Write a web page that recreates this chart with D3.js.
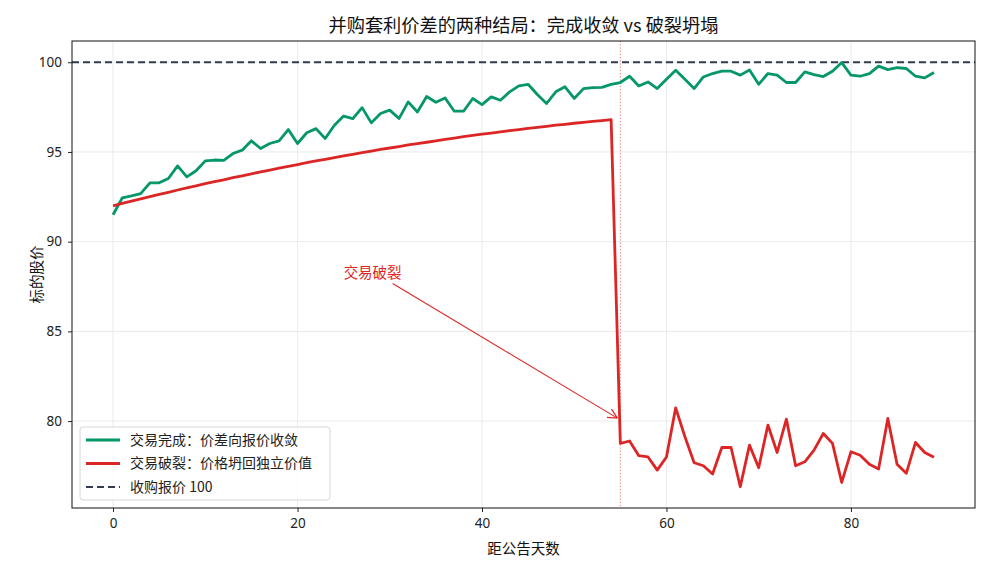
<!DOCTYPE html>
<html>
<head>
<meta charset="utf-8">
<script src="https://cdn.jsdelivr.net/npm/d3@7"></script>
<style>
  body { margin: 0; background: #fff; }
  svg { font-family: "Noto Sans CJK SC", "Noto Sans", sans-serif; }
</style>
</head>
<body>
<div id="chart"></div>
<script>
// data
var completeVals = [91.5, 92.44, 92.55, 92.68, 93.28, 93.28, 93.52, 94.22, 93.61, 93.95,
  94.5, 94.55, 94.53, 94.91, 95.1, 95.62, 95.19, 95.47, 95.62, 96.25,
  95.47, 96.07, 96.3, 95.75, 96.49, 97.0, 96.86, 97.47, 96.62, 97.14,
  97.33, 96.86, 97.79, 97.23, 98.09, 97.77, 98.01, 97.27, 97.27, 97.98,
  97.64, 98.07, 97.88, 98.35, 98.68, 98.77, 98.2, 97.7, 98.35, 98.63,
  97.98, 98.53, 98.58, 98.6, 98.77, 98.87, 99.22, 98.68, 98.9, 98.53,
  99.05, 99.55, 99.05, 98.53, 99.18, 99.37, 99.5, 99.5, 99.28, 99.57,
  98.77, 99.37, 99.28, 98.87, 98.87, 99.46, 99.31, 99.2, 99.5, 99.98,
  99.28, 99.22, 99.37, 99.78, 99.59, 99.7, 99.65, 99.22, 99.13, 99.43];

var brokenVals = [92.0, 92.13, 92.26, 92.38, 92.51, 92.63, 92.75, 92.88, 93.0, 93.11,
  93.23, 93.34, 93.45, 93.57, 93.67, 93.78, 93.89, 93.99, 94.1, 94.2,
  94.3, 94.4, 94.5, 94.59, 94.69, 94.78, 94.87, 94.96, 95.05, 95.14,
  95.22, 95.3, 95.39, 95.47, 95.54, 95.62, 95.7, 95.77, 95.85, 95.92,
  95.99, 96.05, 96.12, 96.19, 96.25, 96.31, 96.37, 96.43, 96.49, 96.54,
  96.6, 96.65, 96.7, 96.75, 96.8,
  78.76, 78.89, 78.07, 78.0, 77.27, 78.0, 80.74, 79.13, 77.68, 77.51,
  77.05, 78.53, 78.53, 76.34, 78.66, 77.4, 79.78, 78.25, 80.11, 77.51,
  77.73, 78.38, 79.31, 78.76, 76.58, 78.29, 78.1, 77.59, 77.33, 80.15,
  77.59, 77.09, 78.81, 78.25, 77.98];

var offerPrice = 100;
var breakDay = 55;
var xTicks = [0, 20, 40, 60, 80];
var yTicks = [80, 85, 90, 95, 100];
var legendLabels = ["交易完成：价差向报价收敛", "交易破裂：价格坍回独立价值", "收购报价 100"];

var W = 990, H = 572;
var margin = { top: 41, right: 15, bottom: 64, left: 72 };
var width = W - margin.left - margin.right,
    height = H - margin.top - margin.bottom;

var green = "#059669", red = "#dc2626", navy = "#333b50";

var svg = d3.select("#chart").append("svg")
    .attr("width", W)
    .attr("height", H);

var g = svg.append("g").attr("transform", "translate(" + margin.left + "," + margin.top + ")");

var n = completeVals.length;
var x = d3.scaleLinear().domain([-(n - 1) * 0.05, (n - 1) * 1.05]).range([0, width]);
var yMin = d3.min(brokenVals), yMax = offerPrice;
var pad = (yMax - yMin) * 0.05;
var y = d3.scaleLinear().domain([yMin - pad, yMax + pad]).range([height, 0]);

// grid
g.append("g").selectAll("line").data(xTicks).join("line")
    .attr("x1", d => x(d)).attr("x2", d => x(d))
    .attr("y1", 0).attr("y2", height)
    .attr("stroke", "#e6e6e6").attr("stroke-width", 0.8);
g.append("g").selectAll("line").data(yTicks).join("line")
    .attr("x1", 0).attr("x2", width)
    .attr("y1", d => y(d)).attr("y2", d => y(d))
    .attr("stroke", "#e6e6e6").attr("stroke-width", 0.8);

// axes
var xAxis = g.append("g").attr("transform", "translate(0," + height + ")")
    .call(d3.axisBottom(x).tickValues(xTicks).tickSize(4).tickPadding(6));
var yAxis = g.append("g")
    .call(d3.axisLeft(y).tickValues(yTicks).tickSize(4).tickPadding(6));
[xAxis, yAxis].forEach(function (a) {
    a.select(".domain").remove();
    a.selectAll("text").attr("font-size", 13.5).attr("fill", "#222")
      .attr("font-family", "'Noto Sans', sans-serif");
    a.selectAll("line").attr("stroke", "#222");
});

// break marker
g.append("line")
    .attr("x1", x(breakDay)).attr("x2", x(breakDay))
    .attr("y1", 0).attr("y2", height)
    .attr("stroke", red).attr("stroke-opacity", 0.6)
    .attr("stroke-width", 1.1).attr("stroke-dasharray", "1.2,2");

// offer line
g.append("line")
    .attr("x1", 0).attr("x2", width)
    .attr("y1", y(offerPrice)).attr("y2", y(offerPrice))
    .attr("stroke", navy).attr("stroke-width", 1.8)
    .attr("stroke-dasharray", "7,4");

var line = d3.line().x((d, i) => x(i)).y(d => y(d));

g.append("path").datum(completeVals)
    .attr("d", line).attr("fill", "none")
    .attr("stroke", green).attr("stroke-width", 2.8)
    .attr("stroke-linejoin", "round");

g.append("path").datum(brokenVals)
    .attr("d", line).attr("fill", "none")
    .attr("stroke", red).attr("stroke-width", 2.8)
    .attr("stroke-linejoin", "round");

// annotation
svg.append("defs").append("marker")
    .attr("id", "arr").attr("viewBox", "0 0 10 10")
    .attr("refX", 10).attr("refY", 5)
    .attr("markerWidth", 10).attr("markerHeight", 10)
    .attr("markerUnits", "userSpaceOnUse")
    .attr("orient", "auto")
    .append("path").attr("d", "M0,0 L10,5 L0,10")
    .attr("fill", "none").attr("stroke", red).attr("stroke-width", 1.2);

var tx = x(25), ty = y(88);
g.append("text").attr("x", tx).attr("y", ty)
    .attr("font-size", 14.5).attr("fill", red)
    .text("交易破裂");
g.append("line")
    .attr("x1", tx + 49).attr("y1", ty + 6)
    .attr("x2", x(breakDay) - 3).attr("y2", y(80) - 3)
    .attr("stroke", red).attr("stroke-width", 1.1)
    .attr("marker-end", "url(#arr)");

// frame
g.append("rect").attr("width", width).attr("height", height)
    .attr("fill", "none").attr("stroke", "#111").attr("stroke-width", 1);

// legend
var lg = g.append("g").attr("transform", "translate(8," + (height - 81) + ")");
lg.append("rect").attr("width", 250).attr("height", 73).attr("rx", 3)
    .attr("fill", "#fff").attr("fill-opacity", 0.8)
    .attr("stroke", "#d6d6d6");
var legendStyles = [
    { color: green, dash: null, w: 2.8 },
    { color: red, dash: null, w: 2.8 },
    { color: navy, dash: "7,4", w: 1.8 }
];
legendLabels.forEach(function (lab, i) {
    var yy = 13 + i * 23.5;
    lg.append("line").attr("x1", 6).attr("x2", 40)
        .attr("y1", yy).attr("y2", yy)
        .attr("stroke", legendStyles[i].color)
        .attr("stroke-width", legendStyles[i].w)
        .attr("stroke-dasharray", legendStyles[i].dash);
    lg.append("text").attr("x", 50).attr("y", yy).attr("dy", "0.35em")
        .attr("font-size", 14).attr("fill", "#222").text(lab);
});

// titles
svg.append("text").attr("x", margin.left + width / 2).attr("y", 32)
    .attr("text-anchor", "middle").attr("font-size", 18.2).attr("fill", "#111")
    .text("并购套利价差的两种结局：完成收敛 vs 破裂坍塌");
svg.append("text").attr("x", margin.left + width / 2).attr("y", 554)
    .attr("text-anchor", "middle").attr("font-size", 14.5).attr("fill", "#111")
    .text("距公告天数");
svg.append("text")
    .attr("transform", "translate(42," + (margin.top + height / 2) + ") rotate(-90)")
    .attr("text-anchor", "middle").attr("font-size", 14.5).attr("fill", "#111")
    .text("标的股价");
</script>
</body>
</html>
